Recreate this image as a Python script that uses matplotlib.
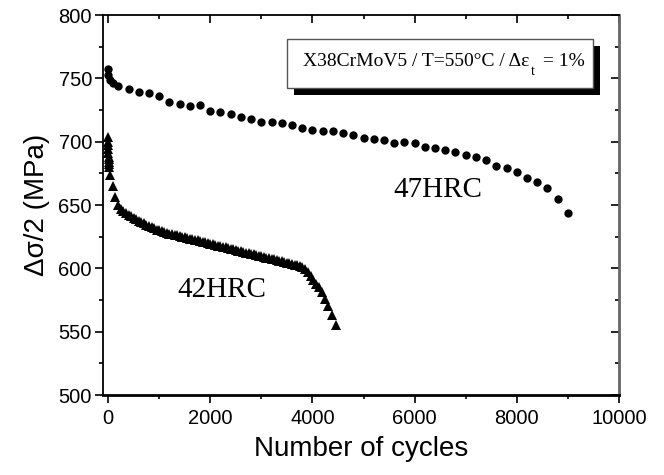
import matplotlib
matplotlib.use("Agg")
import matplotlib.pyplot as plt
from matplotlib.patches import Rectangle
from matplotlib.ticker import MultipleLocator

# 47HRC (circles)
cyc_47 = [5, 5, 40, 100, 200, 400, 600, 800, 1000, 1200, 1400, 1600, 1800, 2000,
          2200, 2400, 2600, 2800, 3000, 3200, 3400, 3600, 3800, 4000, 4200, 4400,
          4600, 4800, 5000, 5200, 5400, 5600, 5800, 6000, 6200, 6400, 6600, 6800,
          7000, 7200, 7400, 7600, 7800, 8000, 8200, 8400, 8600, 8800, 9000]
amp_47 = [757, 753, 749, 746, 744, 741.3, 739.4, 738.2, 736, 731.6, 729.7, 728.2,
          728.9, 724.4, 723.2, 721.8, 719.2, 717.7, 715.8, 715.8, 714.5, 713.2,
          710.5, 709.2, 708.7, 708.7, 706.6, 705.3, 703.2, 702.2, 701.3, 698.7,
          699.5, 698.7, 696, 694.8, 693.4, 692.1, 689.5, 688.1, 685.5, 681,
          679.4, 676.3, 671.1, 668.4, 663.2, 654.7, 643.9]

# 42HRC (triangles)
cyc_42 = [0, 0, 2, 4, 6, 8, 10, 12, 14, 16, 40, 90, 140,
          200, 250, 300, 350, 400, 450, 500, 550, 600, 650, 700, 750, 800, 850,
          900, 950, 1000, 1050, 1100, 1150, 1200, 1250, 1300, 1350, 1400, 1450,
          1500, 1550, 1600, 1650, 1700, 1750, 1800, 1850, 1900, 1950, 2000, 2050,
          2100, 2150, 2200, 2250, 2300, 2350, 2400, 2450, 2500, 2550, 2600, 2650,
          2700, 2750, 2800, 2850, 2900, 2950, 3000, 3050, 3100, 3150, 3200, 3250,
          3300, 3350, 3400, 3450, 3500, 3550, 3600, 3650, 3700, 3750, 3800, 3850,
          3920, 3980, 4020, 4070, 4120, 4180, 4240, 4300, 4390, 4460]
amp_42 = [704, 700, 697, 694, 691, 688, 686, 684, 682, 680, 673.5, 665, 656.5,
          650, 647, 645, 643.5, 642, 641, 640, 639, 637.5, 636.5, 635.5, 634.5,
          633.5, 632.5, 631.5, 630.5, 630, 629.5, 628.5, 628, 627.5, 627, 626.5,
          626, 625.5, 625, 624.5, 624, 623.5, 623, 622.5, 622, 621.5, 621, 620.5,
          620, 619.5, 619, 618.5, 618, 617.5, 617, 616.5, 616, 615.5, 615, 614.5,
          614, 613.5, 613, 612.5, 612, 611.5, 611, 610.5, 610, 609.5, 609, 608.5,
          608, 607.5, 607, 606.5, 606, 605.5, 605, 604.5, 604, 603.5, 603, 602.5,
          602, 601, 599.5, 597, 594, 591, 588, 585, 581, 576, 570, 563, 555]

fig = plt.figure(figsize=(6.64, 4.75), dpi=100)
ax = fig.add_axes([0.1551, 0.1684, 0.7771, 0.8])

ax.plot(cyc_47, amp_47, 'o', color='black', ms=6, mew=0)
ax.plot(cyc_42, amp_42, '^', color='black', ms=7, mew=0)

ax.set_xlim(-100, 10000)
ax.set_ylim(500, 800)
ax.xaxis.set_major_locator(MultipleLocator(2000))
ax.xaxis.set_minor_locator(MultipleLocator(1000))
ax.yaxis.set_major_locator(MultipleLocator(50))
ax.yaxis.set_minor_locator(MultipleLocator(25))

ax.tick_params(axis='both', which='both', top=True, right=True,
               labelsize=14.5, width=1.2, labelfontfamily='Liberation Sans')
ax.tick_params(axis='both', which='major', length=6)
ax.tick_params(axis='both', which='minor', length=3)
ax.tick_params(axis='x', which='both', direction='out', pad=4)
ax.tick_params(axis='y', which='both', direction='out', pad=2)
# mirrored ticks on top/right point inward
for t in ax.xaxis.get_major_ticks() + ax.xaxis.get_minor_ticks():
    t.tick2line.set_marker(3)
for t in ax.yaxis.get_major_ticks() + ax.yaxis.get_minor_ticks():
    t.tick2line.set_marker(0)

for s in ax.spines.values():
    s.set_linewidth(1.3)
ax.spines['bottom'].set_linewidth(2)
ax.spines['right'].set_color('#666666')
ax.spines['right'].set_linewidth(2)

ax.set_xlabel('Number of cycles', fontsize=20, family='Liberation Sans', labelpad=6)
ax.set_ylabel('Δσ/2 (MPa)', fontsize=20, family='Liberation Sans', labelpad=6)

ax.text(6450, 662, '47HRC', fontsize=21, family='Liberation Serif',
        ha='center', va='center')
ax.text(2230, 583, '42HRC', fontsize=21, family='Liberation Serif',
        ha='center', va='center')

# title box with drop shadow (figure pixel units)
W, H = 664, 475
bx, by, bw, bh = 287, 475 - 88, 306, 49
fig.patches.append(Rectangle(((bx + 7) / W, (by - 7) / H), bw / W, bh / H,
                             transform=fig.transFigure, facecolor='black',
                             edgecolor='none', zorder=5))
fig.patches.append(Rectangle((bx / W, by / H), bw / W, bh / H,
                             transform=fig.transFigure, facecolor='white',
                             edgecolor='#555555', lw=1, zorder=6))
ty = (by + bh / 2 + 2) / H
main = fig.text(303 / W, ty, 'X38CrMoV5 / T=550°C / Δε', fontsize=14,
                family='Liberation Serif', ha='left', va='center', zorder=7)
fig.canvas.draw()
bb = main.get_window_extent()
fig.text((bb.x1 + 1) / W, ty - 10 / H, 't', fontsize=10,
         family='Liberation Serif', ha='left', va='center', zorder=7)
fig.text((bb.x1 + 9) / W, ty, ' = 1%', fontsize=14,
         family='Liberation Serif', ha='left', va='center', zorder=7)

fig.savefig('out.png', dpi=100)
